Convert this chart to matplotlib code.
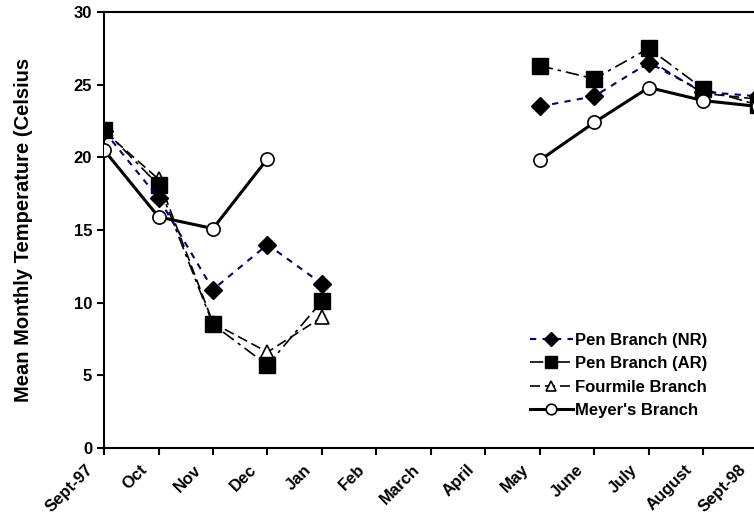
import matplotlib.pyplot as plt
import matplotlib.transforms as mtransforms
import numpy as np

plt.rcParams['font.family'] = ['Liberation Sans', 'DejaVu Sans']
plt.rcParams['font.weight'] = 'bold'

months = ['Sept-97', 'Oct', 'Nov', 'Dec', 'Jan', 'Feb', 'March', 'April',
          'May', 'June', 'July', 'August', 'Sept-98']
nan = np.nan
pen_nr = [21.8, 17.2, 10.9, 14.0, 11.3, nan, nan, nan, 23.5, 24.2, 26.5, 24.5, 24.2]
pen_ar = [21.9, 18.1, 8.5, 5.7, 10.1, nan, nan, nan, 26.3, 25.4, 27.5, 24.7, 23.6]
fourmile = [21.8, 18.5, 8.6, 6.6, 9.0, nan, nan, nan, nan, nan, 26.7, 24.4, 24.0]
meyers = [20.5, 15.9, 15.1, 19.9, nan, nan, nan, nan, 19.8, 22.4, 24.8, 23.9, 23.5]

x = np.arange(len(months))

fig = plt.figure(figsize=(7.54, 5.18), dpi=100)
ax = fig.add_axes([0.138, 0.135, 0.867, 0.842])

ax.plot(x, pen_nr, color='#000080', linestyle=(0, (3, 3)), lw=1.5,
        marker='D', ms=9, mfc='black', mec='black', label='Pen Branch (NR)', zorder=4)
ax.plot(x, pen_ar, color='black', linestyle=(0, (8, 3, 2, 3)), lw=1.2,
        marker='s', ms=11, mfc='black', mec='black', label='Pen Branch (AR)', zorder=3)
ax.plot(x, fourmile, color='black', linestyle=(0, (6, 3)), lw=1.2,
        marker='^', ms=9.5, mfc='white', mec='black', mew=1.2, label='Fourmile Branch', zorder=2)
ax.plot(x, meyers, color='black', linestyle='-', lw=2.2,
        marker='o', ms=9.5, mfc='white', mec='black', mew=1.2, label="Meyer's Branch", zorder=5)

ax.set_xlim(0, 12)
ax.set_ylim(0, 30)
ax.set_yticks([0, 5, 10, 15, 20, 25, 30])
ax.set_xticks(x)
ax.set_xticklabels(months, rotation=45, ha='right', va='top')
ax.tick_params(labelsize=12, width=1.5, length=5)
ax.tick_params(axis='x', pad=3)
# nudge the slanted month names a little to the left
shift = mtransforms.ScaledTranslation(-6 / 72, -2 / 72, fig.dpi_scale_trans)
for lab in ax.get_xticklabels():
    lab.set_transform(lab.get_transform() + shift)
for s in ax.spines.values():
    s.set_linewidth(1.5)
ax.spines['right'].set_visible(False)

ax.set_ylabel('Mean Monthly Temperature (Celsius', fontsize=14.5, fontweight='bold', labelpad=29)

ax.legend(loc='lower right', bbox_to_anchor=(0.935, 0.05), frameon=False, fontsize=12,
          handlelength=2.6, handletextpad=0.1, labelspacing=0.5, borderpad=0,
          markerscale=0.8)

fig.savefig('out.png', dpi=100)
